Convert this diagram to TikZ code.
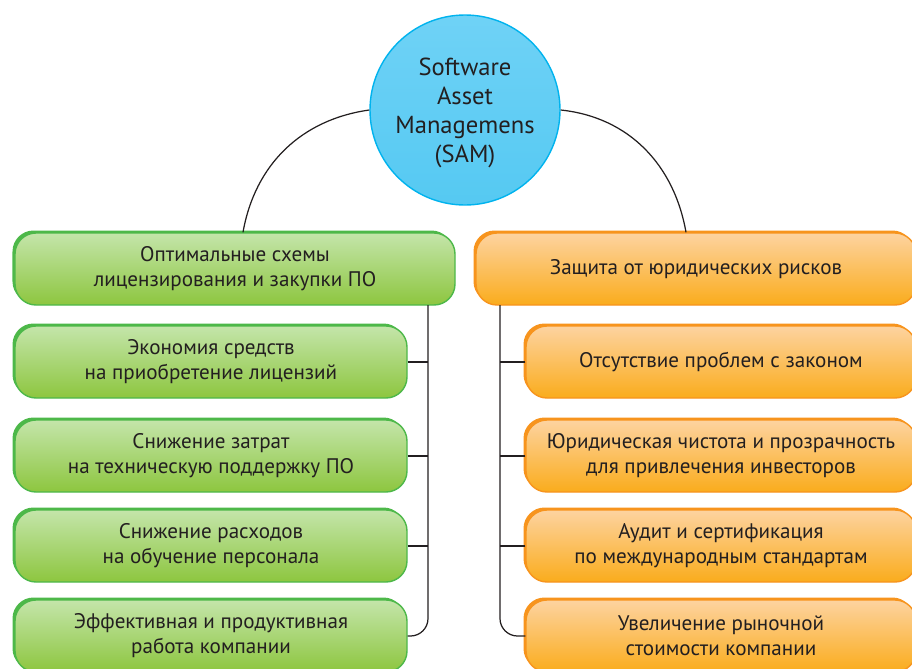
\documentclass[tikz,border=0pt]{standalone}
\usepackage{fontspec}
\setmainfont{PT Sans}

\definecolor{grnedge}{HTML}{4DB849}
\definecolor{grntop}{HTML}{C4E5AA}
\definecolor{grnbot}{HTML}{8DC63F}
\definecolor{orgedge}{HTML}{F7941D}
\definecolor{orgtop}{HTML}{FDD3A0}
\definecolor{orgbot}{HTML}{FAAC1C}
\definecolor{samtop}{HTML}{6FD2F6}
\definecolor{sammid}{HTML}{00B3EE}
\definecolor{sambot}{HTML}{55C9F2}
\definecolor{txt}{HTML}{231F20}

\tikzset{
  box/.style={rounded corners=0.42cm, align=center, text=txt, line width=0.8pt,
    font=\fontsize{12}{14.2}\selectfont, minimum height=1.44cm, inner sep=0pt},
  greenbox/.style={box, draw=grnedge, top color=grntop, bottom color=grnbot,
    preaction={fill=grnedge, transform canvas={shift={(-0.05,0.05)}}}},
  orangebox/.style={box, draw=orgedge, top color=orgtop, bottom color=orgbot,
    preaction={fill=orgedge, transform canvas={shift={(-0.05,0.05)}}}},
  link/.style={draw=txt, line width=0.7pt}
}

\begin{document}
\begin{tikzpicture}
  \useasboundingbox (0,0) rectangle (18.24,-13.36);

  % centre
  \node[circle, minimum size=3.8cm, draw=sammid, line width=0.8pt,
        top color=samtop, middle color=sammid, bottom color=sambot,
        align=center, text=txt, font=\fontsize{14}{16.5}\selectfont]
        (sam) at (9.30,-2.20) {};
  \node[align=center, text=txt, font=\fontsize{14}{16.5}\selectfont]
        (samtext) at (9.30,-2.26) {Software\\Asset\\Managemens\\(SAM)};

  % left branch
  \node[greenbox, minimum width=8.8cm] (opt) at (4.70,-5.38)
        {Оптимальные схемы\\лицензирования и закупки ПО};
  \node[greenbox, minimum width=7.84cm] (g1) at (4.22,-7.24)
        {Экономия средств\\на приобретение лицензий};
  \node[greenbox, minimum width=7.84cm] (g2) at (4.22,-9.12)
        {Снижение затрат\\на техническую поддержку ПО};
  \node[greenbox, minimum width=7.84cm] (g3) at (4.22,-10.92)
        {Снижение расходов\\на обучение персонала};
  \node[greenbox, minimum width=7.84cm] (g4) at (4.22,-12.72)
        {Эффективная и продуктивная\\работа компании};

  % right branch
  \node[orangebox, minimum width=8.8cm] (prot) at (13.92,-5.38)
        {Защита от юридических рисков};
  \node[orangebox, minimum width=7.8cm] (o1) at (14.42,-7.24)
        {Отсутствие проблем с законом};
  \node[orangebox, minimum width=7.8cm] (o2) at (14.42,-9.12)
        {Юридическая чистота и прозрачность\\для привлечения инвесторов};
  \node[orangebox, minimum width=7.8cm] (o3) at (14.42,-10.92)
        {Аудит и сертификация\\по международным стандартам};
  \node[orangebox, minimum width=7.8cm] (o4) at (14.42,-12.72)
        {Увеличение рыночной\\стоимости компании};

  \coordinate (lbus) at (8.56,-6.10);
  \coordinate (rbus) at (10.00,-6.10);

  \draw[link] ([xshift=0.16cm]opt.north) to[out=80,in=188] (sam.west);
  \draw[link] (sam.east) to[out=-6,in=100] ([xshift=-0.2cm]prot.north);

  \draw[link, rounded corners=0.35cm] (lbus) |- (g4.east);
  \draw[link] (g1.east) -- (g1.east -| lbus);
  \draw[link] (g2.east) -- (g2.east -| lbus);
  \draw[link] (g3.east) -- (g3.east -| lbus);

  \draw[link, rounded corners=0.35cm] (rbus) |- (o4.west);
  \draw[link] (o1.west) -- (o1.west -| rbus);
  \draw[link] (o2.west) -- (o2.west -| rbus);
  \draw[link] (o3.west) -- (o3.west -| rbus);
\end{tikzpicture}
\end{document}
